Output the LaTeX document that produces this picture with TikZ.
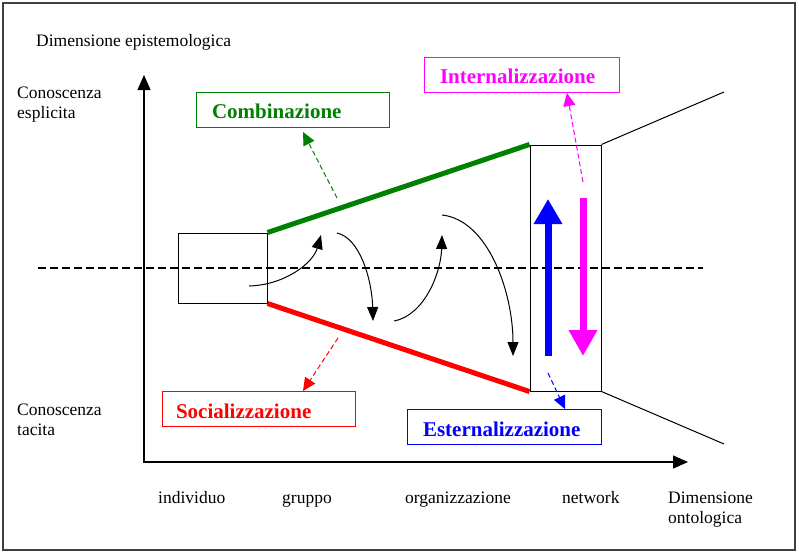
\documentclass[tikz,border=0pt]{standalone}
\usepackage{fontspec}
\setmainfont{Liberation Serif}
\usetikzlibrary{arrows.meta,calc}
\definecolor{cgreen}{RGB}{0,128,0}
\definecolor{cred}{RGB}{255,0,0}
\definecolor{cblue}{RGB}{0,0,255}
\definecolor{cmag}{RGB}{255,0,255}
\begin{document}
\begin{tikzpicture}[x=1pt,y=-1pt,
  every node/.style={font=\fontsize{17.5}{19.5}\selectfont, inner sep=0pt},
  txt/.style={anchor=base west, align=left},
  lab/.style={draw, line width=1pt, font=\fontsize{21}{24}\selectfont\bfseries, align=left, minimum height=35pt, inner ysep=0pt, text height=18pt, text depth=0pt},
  thinline/.style={line width=1pt},
  curvetip/.style={line width=1pt, -{Triangle[length=14pt,width=11pt]}},
  dtip/.style={-{Triangle[length=13pt,width=12pt]}, line width=1pt, dash pattern=on 5pt off 3pt},
]
\useasboundingbox (0,0) rectangle (799,554);
\draw[line width=1.5pt, black!75] (3,3) rectangle (795,550);

% plain texts
\node[txt] (epi) at (36,46) {Dimensione epistemologica};
\node[txt] (esp) at (17,118) {Conoscenza\\esplicita};
\node[txt] (tac) at (17,435) {Conoscenza\\tacita};
\node[txt] (indl) at (158,503) {individuo};
\node[txt] (grul) at (282,503) {gruppo};
\node[txt] (orgl) at (405,503) {organizzazione};
\node[txt] (netl) at (562,503) {network};
\node[txt] (ont) at (668,523) {Dimensione\\ontologica};

% axes
\coordinate (ytop) at (144,75);
\coordinate (xend) at (688,462);
\draw[line width=1.2pt, {Triangle[length=15pt,width=13pt]}-{Triangle[length=15pt,width=13pt]}] (ytop) |- (xend);

% dashed middle line
\coordinate (dl) at (38,268);
\coordinate (dr) at (703,268);
\draw[line width=1.2pt, dash pattern=on 8pt off 4pt] (dl) -- (dr);

% boxes
\node[draw, thinline, minimum width=89pt, minimum height=70pt] (ibox) at (222.5,268) {};
\node[draw, thinline, minimum width=71pt, minimum height=246pt] (nbox) at (565.5,268) {};

% funnel
\draw[cgreen, line width=5pt] (ibox.north east) -- (nbox.north west);
\draw[cred, line width=5pt] (ibox.south east) -- (nbox.south west);
\coordinate (fu) at (724,92);
\coordinate (fd) at (724,444);
\draw[thinline] (nbox.north east) -- (fu);
\draw[thinline] (nbox.south east) -- (fd);

% labels
\node[lab, cgreen, inner xsep=16pt, text width=161pt] (comb) at (292.5,109.5) {Combinazione};
\node[lab, cmag, inner xsep=16pt, text width=163pt] (inte) at (521.5,74.5) {Internalizzazione};
\node[lab, cred, inner xsep=14pt, text width=165pt] (soc) at (258.5,409) {Socializzazione};
\node[lab, cblue, inner xsep=16pt, text width=162pt] (est) at (504,427) {Esternalizzazione};

% curved spiral arrows
\coordinate (a1) at (249,286); \coordinate (b1) at (321,235);
\coordinate (a2) at (337,233); \coordinate (b2) at (373,321);
\coordinate (a3) at (394,321); \coordinate (b3) at (442,235);
\coordinate (a4) at (442,215); \coordinate (b4) at (513,356);
\draw[curvetip] (a1) .. controls (285,285) and (313,263) .. (b1);
\draw[curvetip] (a2) .. controls (360,238) and (372,280) .. (b2);
\draw[curvetip] (a3) .. controls (425,315) and (441,272) .. (b3);
\draw[curvetip] (a4) .. controls (488,220) and (513,292) .. (b4);

% thick arrows in the network box
\coordinate (bs) at (548,356); \coordinate (bt) at (548,199);
\draw[cblue, line width=7pt, -{Triangle[length=25pt,width=27pt]}] (bs) -- (bt);
\coordinate (ms) at (583,198); \coordinate (mt) at (583,356);
\draw[cmag, line width=7pt, -{Triangle[length=26pt,width=27pt]}] (ms) -- (mt);

% dashed pointers
\coordinate (gs) at (337,198); \coordinate (gt) at (303,132);
\draw[cgreen, dtip] (gs) -- (gt);
\coordinate (ps) at (583,182); \coordinate (pt) at (567,93);
\draw[cmag, dtip] (ps) -- (pt);
\coordinate (rs) at (338,338); \coordinate (rt) at (303,391);
\draw[cred, dtip] (rs) -- (rt);
\coordinate (us) at (548,373); \coordinate (ut) at (565,409);
\draw[cblue, dtip] (us) -- (ut);
\end{tikzpicture}
\end{document}
